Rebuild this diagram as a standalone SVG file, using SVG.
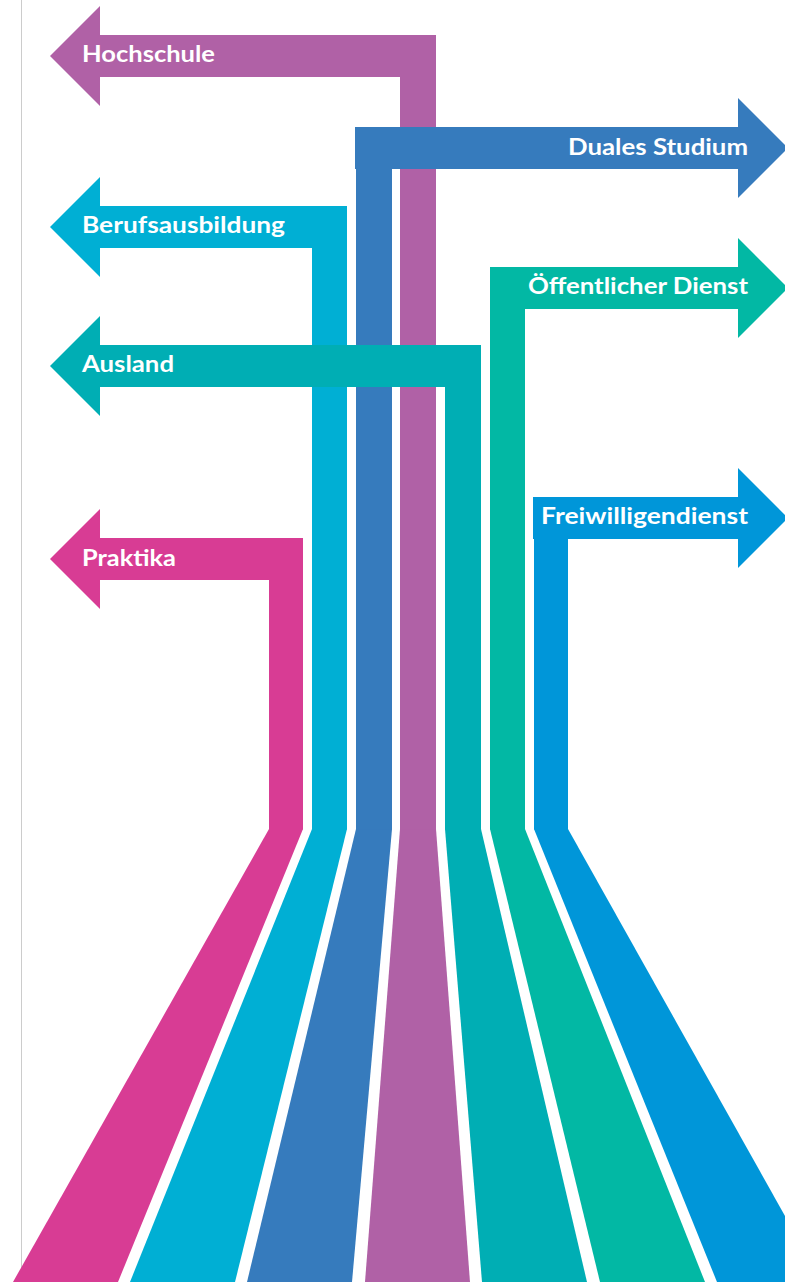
<svg xmlns="http://www.w3.org/2000/svg" width="785" height="1282" viewBox="0 0 785 1282">
<style>
.lbl{font-family:"Lato","Open Sans","DejaVu Sans",sans-serif;font-weight:700;font-size:22px;fill:#ffffff}
.purple{fill:#B061A6}.cyan{fill:#00AFD4}.blue{fill:#367BBD}.teal{fill:#00AEB4}.green{fill:#02B8A4}.blue2{fill:#0096D9}.pink{fill:#D83C94}
</style>
<rect width="785" height="1282" fill="#ffffff"/>
<line x1="21.5" y1="0" x2="21.5" y2="1282" stroke="#cccccc" stroke-width="1"/>
<g id="connectors">
<polygon class="pink" points="269,829 303,829 118,1282 13,1282"/>
<polygon class="cyan" points="312,829 347,829 235,1282 130,1282"/>
<polygon class="blue" points="356,829 392,829 352,1282 247,1282"/>
<polygon class="purple" points="400,829 436,829 470,1282 365,1282"/>
<polygon class="teal" points="445,829 481,829 587,1282 482,1282"/>
<polygon class="green" points="490,829 525,829 705,1282 600,1282"/>
<polygon class="blue2" points="534,829 568,829 822,1282 717,1282"/>
</g>
<g id="hochschule">
<polygon class="purple" points="50,56 100,6 100,35 436,35 436,829.5 400,829.5 400,77 100,77 100,106"/>
<text class="lbl" x="82" y="62" textLength="133" lengthAdjust="spacingAndGlyphs">Hochschule</text>
</g>
<g id="berufsausbildung">
<polygon class="cyan" points="50,227 100,177 100,206 347,206 347,829.5 312,829.5 312,248 100,248 100,277"/>
<text class="lbl" x="82" y="233" textLength="203" lengthAdjust="spacingAndGlyphs">Berufsausbildung</text>
</g>
<g id="duales-studium">
<polygon class="blue" points="788,148 738,98 738,127 355,127 355,169 356,169 356,829.5 392,829.5 392,169 738,169 738,198"/>
<text class="lbl" x="748" y="155" text-anchor="end" textLength="180" lengthAdjust="spacingAndGlyphs">Duales Studium</text>
</g>
<g id="ausland">
<polygon class="teal" points="50,366 100,316 100,345 481,345 481,829.5 445,829.5 445,387 100,387 100,416"/>
<text class="lbl" x="82" y="372" textLength="92" lengthAdjust="spacingAndGlyphs">Ausland</text>
</g>
<g id="oeffentlicher-dienst">
<polygon class="green" points="788,288 738,238 738,267 490,267 490,829.5 525,829.5 525,309 738,309 738,338"/>
<text class="lbl" x="748" y="294" text-anchor="end" textLength="220" lengthAdjust="spacingAndGlyphs">Öffentlicher Dienst</text>
</g>
<g id="freiwilligendienst">
<polygon class="blue2" points="788,518 738,468 738,497 533,497 533,539 534,539 534,829.5 568,829.5 568,539 738,539 738,568"/>
<text class="lbl" x="748" y="524" text-anchor="end" textLength="207" lengthAdjust="spacingAndGlyphs">Freiwilligendienst</text>
</g>
<g id="praktika">
<polygon class="pink" points="50,559 100,509 100,538 303,538 303,829.5 269,829.5 269,580 100,580 100,609"/>
<text class="lbl" x="82" y="566" textLength="94" lengthAdjust="spacingAndGlyphs">Praktika</text>
</g>
</svg>
